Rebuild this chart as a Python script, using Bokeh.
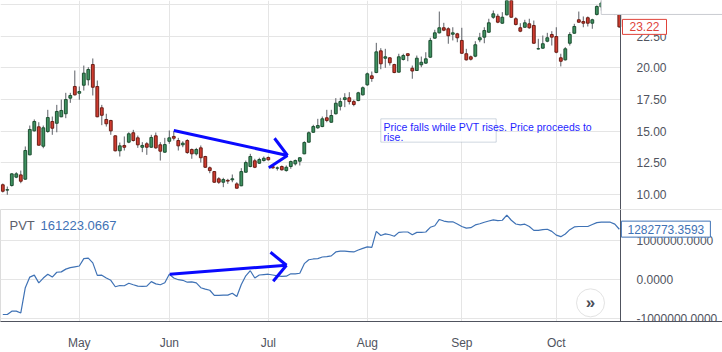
import numpy as np
from bokeh.plotting import figure
from bokeh.layouts import column
from bokeh.models import (Range1d, FixedTicker, NumeralTickFormatter, Label,
                          BoxAnnotation, ColumnDataSource)
from bokeh.embed import file_html
from bokeh.resources import INLINE

# ---------------- data (bar index 0..137, daily bars Apr-Oct) ----------------
opens = [10.77, 10.35, 10.71, 11.37, 11.55, 11.21, 13.13, 15.02, 15.34, 13.81,
         14.97, 15.76, 15.62, 16.13, 16.37, 17.60, 18.52, 17.99, 18.62, 19.05,
         20.25, 18.52, 16.84, 15.92, 15.84, 14.63, 13.45, 13.87, 14.13, 14.87,
         14.47, 13.73, 14.00, 13.73, 14.63, 13.92, 13.34, 14.20, 14.58, 14.26,
         13.92, 14.26, 13.55, 13.21, 13.68, 13.00, 12.11, 11.81, 11.24, 10.97,
         11.12, 11.16, 10.84, 10.69, 11.76, 12.21, 12.66, 12.47, 12.68, 12.92,
         12.20, 12.08, 12.21, 11.89, 12.21, 12.42, 12.63, 13.21, 14.13, 14.91,
         15.26, 15.36, 16.05, 15.70, 16.37, 16.96, 17.49, 17.63, 17.33, 17.41,
         17.86, 18.65, 19.36, 19.62, 21.33, 20.75, 20.78, 20.25, 19.65, 20.65,
         21.10, 19.96, 19.78, 20.23, 20.36, 20.83, 22.33, 22.75, 23.15, 23.07,
         22.64, 22.67, 22.15, 21.10, 20.86, 20.91, 22.20, 22.41, 22.80, 23.98,
         24.06, 23.51, 24.17, 25.40, 23.86, 23.15, 23.19, 23.46, 23.33, 21.48,
         21.54, 22.09, 22.62, 22.46, 20.78, 20.62, 21.93, 22.72, 23.78, 23.64,
         23.94, 23.51, 24.20, 24.80, 25.10, 24.90, 25.20, 24.20]
highs = [10.87, 10.63, 11.68, 11.76, 11.89, 13.79, 15.44, 15.92, 15.70, 15.44,
         16.68, 16.15, 17.07, 17.49, 18.02, 18.02, 19.78, 18.52, 20.17, 20.04,
         20.73, 18.99, 17.07, 16.37, 15.89, 14.66, 14.10, 14.58, 14.91, 15.10,
         14.65, 14.13, 14.13, 14.71, 14.89, 14.13, 14.47, 15.05, 14.99, 14.47,
         14.20, 14.36, 13.63, 13.68, 13.87, 13.05, 12.21, 11.85, 11.37, 11.32,
         11.24, 11.58, 10.97, 12.08, 12.68, 13.21, 12.82, 12.90, 13.00, 13.00,
         12.28, 12.21, 12.29, 12.29, 12.68, 12.76, 12.94, 14.20, 14.97, 15.50,
         15.97, 16.15, 16.68, 16.68, 17.60, 17.63, 17.99, 18.07, 17.47, 18.10,
         18.52, 19.62, 19.70, 21.96, 21.54, 21.49, 20.83, 20.31, 21.10, 21.10,
         21.12, 20.17, 20.96, 20.88, 21.22, 22.36, 22.99, 24.43, 23.54, 23.19,
         23.19, 22.75, 23.15, 21.49, 20.96, 22.09, 22.75, 23.19, 23.86, 24.51,
         24.25, 24.38, 25.80, 25.60, 23.98, 23.51, 23.78, 23.86, 23.72, 22.28,
         22.54, 22.75, 22.88, 23.19, 21.10, 21.62, 22.80, 23.46, 24.43, 24.04,
         24.04, 23.86, 24.91, 25.30, 25.60, 25.40, 25.50, 24.30]
lows = [10.16, 9.98, 10.63, 11.29, 10.89, 11.16, 13.10, 14.97, 13.87, 13.65,
        14.87, 14.71, 14.91, 16.10, 16.02, 17.23, 17.81, 17.47, 18.20, 18.60,
        17.81, 16.10, 15.47, 15.36, 14.71, 13.40, 13.00, 13.47, 14.05, 14.18,
        13.68, 13.34, 13.13, 13.68, 13.61, 12.68, 13.29, 14.00, 14.26, 13.47,
        13.73, 13.21, 12.82, 13.08, 12.52, 12.10, 11.68, 10.93, 10.84, 10.58,
        10.84, 10.97, 10.48, 10.66, 11.74, 12.15, 12.08, 12.42, 12.60, 12.68,
        12.05, 11.89, 11.89, 11.81, 12.03, 12.29, 12.29, 13.18, 14.10, 14.87,
        15.18, 15.31, 15.70, 15.66, 16.31, 16.63, 16.89, 17.10, 16.96, 17.36,
        17.81, 18.57, 18.89, 19.57, 19.88, 19.99, 20.17, 19.57, 19.62, 20.57,
        20.51, 19.13, 19.74, 20.04, 20.31, 20.78, 22.28, 22.70, 22.88, 21.89,
        22.15, 22.01, 21.10, 20.57, 20.57, 20.83, 22.01, 21.93, 22.75, 23.86,
        23.51, 23.46, 24.12, 23.95, 23.33, 22.80, 23.15, 23.07, 21.89, 21.44,
        21.49, 22.01, 21.75, 21.14, 20.10, 20.57, 21.75, 22.67, 23.54, 23.19,
        23.25, 23.07, 24.12, 24.50, 24.70, 24.60, 24.15, 23.15]
closes = [10.26, 10.38, 11.63, 11.63, 11.05, 13.47, 15.13, 15.76, 13.89, 15.26,
          16.07, 15.23, 16.55, 16.63, 17.49, 17.81, 17.86, 18.12, 19.57, 19.86,
          18.46, 16.13, 16.25, 15.58, 15.02, 13.45, 13.84, 13.73, 14.79, 14.26,
          13.92, 13.87, 13.73, 14.50, 13.68, 13.42, 13.94, 14.47, 14.44, 13.84,
          14.05, 13.31, 13.21, 13.55, 12.90, 12.15, 11.89, 10.97, 10.97, 11.18,
          11.06, 11.24, 10.50, 11.81, 12.52, 13.00, 12.15, 12.76, 12.86, 12.74,
          12.10, 12.10, 11.95, 12.15, 12.60, 12.68, 12.90, 14.10, 14.87, 15.36,
          15.44, 15.97, 15.84, 16.23, 17.20, 17.33, 17.63, 17.33, 17.10, 18.02,
          18.42, 19.52, 19.15, 21.25, 20.31, 20.86, 20.39, 19.62, 20.86, 20.96,
          20.96, 19.74, 20.75, 20.43, 20.70, 22.15, 22.75, 23.15, 22.96, 22.52,
          22.75, 22.36, 21.14, 20.62, 20.67, 21.81, 22.36, 22.93, 23.54, 24.25,
          23.59, 23.98, 25.40, 23.98, 23.41, 22.88, 23.54, 23.15, 21.93, 21.50,
          21.89, 22.36, 22.41, 21.22, 20.51, 21.49, 22.62, 23.25, 23.59, 23.51,
          23.51, 23.78, 24.83, 25.10, 24.90, 25.20, 24.50, 23.22]
pvt = [-0.90, -0.90, -0.815, -0.815, -0.86, -0.215, 0.057, 0.106, -0.09, 0.032,
       0.13, 0.057, 0.18, 0.19, 0.26, 0.30, 0.32, 0.34, 0.53, 0.54,
       0.42, 0.10, 0.106, 0.032, -0.025, -0.19, -0.158, -0.165, -0.10, -0.14,
       -0.173, -0.18, -0.173, -0.06, -0.116, -0.14, -0.09, 0.13, 0.032, -0.01,
       -0.025, -0.074, -0.067, -0.09, -0.215, -0.25, -0.28, -0.41, -0.41, -0.405,
       -0.405, -0.355, -0.44, -0.133, 0.09, 0.22, 0.032, 0.11, 0.12, 0.13,
       0.11, 0.09, 0.074, 0.08, 0.14, 0.14, 0.155, 0.40, 0.50, 0.52,
       0.53, 0.57, 0.58, 0.60, 0.70, 0.72, 0.72, 0.71, 0.70, 0.75,
       0.79, 0.83, 0.815, 1.225, 1.12, 1.16, 1.14, 1.10, 1.20, 1.21,
       1.21, 1.14, 1.20, 1.20, 1.21, 1.33, 1.37, 1.53, 1.49, 1.47,
       1.47, 1.415, 1.35, 1.31, 1.32, 1.39, 1.42, 1.46, 1.49, 1.52,
       1.50, 1.51, 1.64, 1.51, 1.415, 1.39, 1.41, 1.35, 1.25, 1.25,
       1.27, 1.28, 1.225, 1.13, 1.09, 1.16, 1.27, 1.34, 1.35, 1.35,
       1.35, 1.40, 1.45, 1.46, 1.46, 1.46, 1.41, 1.28]  # millions

month_ticks = [17, 37, 59, 81, 102, 123]
month_labels = ["May", "Jun", "Jul", "Aug", "Sep", "Oct"]
price_ticks = [10.0, 12.5, 15.0, 17.5, 20.0, 22.5, 25.0]
pvt_ticks = [-1000000, 0, 1000000]

last_price = 23.22
last_price_text = "23.22"
last_pvt = 1282773.3593
last_pvt_text = "1282773.3593"
legend_name = "PVT"
legend_value = "161223.0667"
note_line1 = "Price falls while PVT rises. Price proceeds to"
note_line2 = "rise."

# annotation arrows (bar index, value)
price_arrow_x = [38.0, 63.27]
price_arrow_y = [15.05, 13.08]
price_head_x = [60.38, 59.11]
price_head_y = [14.44, 12.11]
pvt_arrow_x = [37.1, 63.04]
pvt_arrow_y = [131000, 360000]
pvt_head_x = [59.49, 60.09]
pvt_head_y = [691000, -49000]

# ---------------- styling ----------------
GREEN_FILL, GREEN_LINE = "#3e9160", "#1d4f31"
RED_FILL, RED_LINE = "#cf3b2f", "#6b1d15"
WICK = "#5c5f66"
GRID = "#e5e5e5"
AXIS = "#50535e"
TEXT = "#50535e"
PVT_BLUE = "#3f72b5"
ARROW = "#0a0aff"
BADGE_RED = "#e0433a"
FONT = "Liberation Sans"

n = len(opens)
idx = np.arange(n)
o = np.array(opens); c = np.array(closes)
up = c >= o
src = ColumnDataSource(dict(
    x=idx, high=highs, low=lows,
    top=np.maximum(o, c), bottom=np.minimum(o, c),
    fill=[GREEN_FILL if u else RED_FILL for u in up],
    line=[GREEN_LINE if u else RED_LINE for u in up],
))

# time scale: 4.5 px per bar; the price scale sits at the right edge of the bars
SCALE_X = 137.27
xr = Range1d(-0.51, 159.93)
BADGE_X = 142.6


def style_common(f):
    f.outline_line_color = None
    f.background_fill_color = "white"
    f.border_fill_color = "white"
    ax = f.yaxis[0]
    ax.fixed_location = SCALE_X
    ax.major_tick_line_color = None
    ax.minor_tick_line_color = None
    ax.axis_line_color = AXIS
    ax.major_label_standoff = 10
    ax.major_label_text_color = TEXT
    ax.major_label_text_font = FONT
    ax.major_label_text_font_size = "12px"
    f.xgrid.grid_line_color = GRID
    f.ygrid.grid_line_color = GRID
    # keep the price-scale strip free of grid lines
    f.add_layout(BoxAnnotation(left=SCALE_X, fill_color="white", fill_alpha=1.0,
                               line_color=None, level="underlay"))


# ---------------- price pane ----------------
p = figure(width=722, height=209, x_range=xr, y_range=Range1d(8.82, 25.30),
           output_backend="svg", toolbar_location=None,
           y_axis_location="right", x_axis_location=None,
           min_border_left=0, min_border_right=0,
           min_border_top=0, min_border_bottom=0)
style_common(p)
p.yaxis.ticker = FixedTicker(ticks=price_ticks)
p.yaxis.formatter = NumeralTickFormatter(format="0.00")
p.xgrid.ticker = FixedTicker(ticks=month_ticks)

p.segment(x0="x", y0="low", x1="x", y1="high", source=src, line_color=WICK, line_width=1)
p.vbar(x="x", width=0.62, top="top", bottom="bottom", source=src,
       fill_color="fill", line_color="line", line_width=1)

# note box + text
p.add_layout(BoxAnnotation(left=84.0, right=109.64, top=15.97, bottom=14.13,
                           fill_color="white", fill_alpha=0.85,
                           line_color="#5f7b99", line_width=1))
p.add_layout(Label(x=84.6, y=15.36, text=note_line1, text_color="#1f1fff",
                   text_font=FONT, text_font_size="10.5px", text_baseline="middle"))
p.add_layout(Label(x=84.6, y=14.57, text=note_line2, text_color="#1f1fff",
                   text_font=FONT, text_font_size="10.5px", text_baseline="middle"))

# arrow
p.line(price_arrow_x, price_arrow_y, line_color=ARROW, line_width=3)
p.segment(x0=price_head_x, y0=price_head_y,
          x1=[price_arrow_x[1]] * 2, y1=[price_arrow_y[1]] * 2,
          line_color=ARROW, line_width=3)

# top-right overlay box (legend widget) and last-price badge
p.quad(left=[132.98], right=[170], top=[27], bottom=[24.2], fill_color="white",
       line_color="#c9cbd1", line_width=1, level="annotation")
p.rect(x=[BADGE_X], y=[last_price], width=44, height=15, width_units="screen",
       height_units="screen", fill_color="white", line_color=BADGE_RED,
       line_width=1, level="annotation")
p.text(x=[BADGE_X], y=[last_price], text=[last_price_text], text_color=BADGE_RED,
       text_font_size="12px", text_align="center", text_baseline="middle",
       level="annotation", text_font={"value": FONT})

# ---------------- PVT pane ----------------
q = figure(width=722, height=143, x_range=xr, y_range=Range1d(-1079000, 1785000),
           output_backend="svg", toolbar_location=None,
           y_axis_location="right", x_axis_location="below",
           min_border_left=0, min_border_right=0,
           min_border_top=0, min_border_bottom=27)
style_common(q)
q.outline_line_color = "#dcdcdc"
q.yaxis.ticker = FixedTicker(ticks=pvt_ticks)
q.yaxis.formatter = NumeralTickFormatter(format="0.0000")
q.xaxis.ticker = FixedTicker(ticks=month_ticks)
q.xaxis.major_label_overrides = {t: l for t, l in zip(month_ticks, month_labels)}
q.xaxis.major_tick_line_color = None
q.xaxis.minor_tick_line_color = None
q.xaxis.axis_line_color = AXIS
q.xaxis.major_label_standoff = 8
q.xaxis.major_label_text_color = TEXT
q.xaxis.major_label_text_font = FONT
q.xaxis.major_label_text_font_size = "12px"

q.line(idx, np.array(pvt) * 1e6, line_color=PVT_BLUE, line_width=1.2)

q.line(pvt_arrow_x, pvt_arrow_y, line_color=ARROW, line_width=3)
q.segment(x0=pvt_head_x, y0=pvt_head_y,
          x1=[pvt_arrow_x[1]] * 2, y1=[pvt_arrow_y[1]] * 2,
          line_color=ARROW, line_width=3)

q.add_layout(Label(x=1.49, y=1365000, text=legend_name, text_color="#5d606b",
                   text_font=FONT, text_font_size="13px", text_baseline="middle"))
q.add_layout(Label(x=8.38, y=1365000, text=legend_value, text_color=PVT_BLUE,
                   text_font=FONT, text_font_size="13px", text_baseline="middle"))

PVT_BADGE_X = 147.35
q.rect(x=[PVT_BADGE_X], y=[last_pvt], width=89, height=16, width_units="screen",
       height_units="screen", fill_color="white", line_color=PVT_BLUE,
       line_width=1, level="annotation")
q.text(x=[PVT_BADGE_X], y=[last_pvt], text=[last_pvt_text], text_color=PVT_BLUE,
       text_font_size="12px", text_align="center", text_baseline="middle",
       level="annotation", text_font={"value": FONT})

# scroll button
q.scatter([130.6], [-602000], size=28, fill_color="white", line_color="#e3e3e3")
q.text([130.6], [-602000], text=["\u00bb"], text_align="center", text_baseline="middle",
       text_color="#4a4d57", text_font_size="17px", text_font_style="bold")

layout = column(p, q, spacing=0)
open("out.html", "w").write(file_html(layout, INLINE))
